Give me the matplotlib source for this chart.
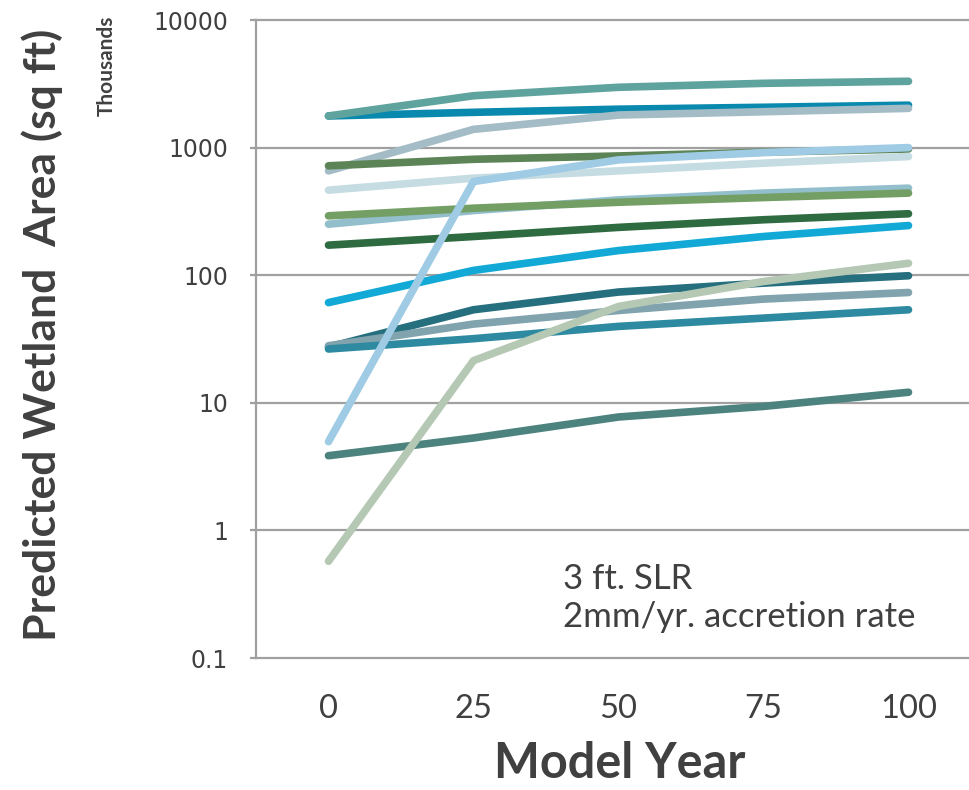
import matplotlib

matplotlib.use("Agg")
import matplotlib.pyplot as plt

years = ["0", "25", "50", "75", "100"]

# predicted wetland area per site, thousands of sq ft
series = {
    "B": [1770, 1890, 2000, 2070, 2150],
    "A": [1770, 2550, 2970, 3190, 3310],
    "C": [657, 1390, 1800, 1910, 2030],
    "D": [720, 810, 860, 920, 975],
    "G": [251, 321, 389, 440, 481],
    "H": [292, 335, 373, 406, 440],
    "I": [172, 201, 237, 272, 303],
    "J": [61, 109, 156, 201, 245],
    "K": [27.3, 53.6, 73.8, 86.7, 99],
    "L": [28, 41.4, 52.9, 65, 73.2],
    "M": [26.4, 31.8, 39.7, 46.1, 53.6],
    "O": [3.85, 5.3, 7.74, 9.37, 12.1],
    "F": [464, 576, 657, 755, 851],
    "E": [4.96, 542, 801, 914, 1000],
    "N": [0.573, 21.4, 56.9, 89.3, 124],
}

colors = {
    "A": "#5FA39E",
    "B": "#0A89AE",
    "C": "#A3BCC6",
    "D": "#5C8457",
    "E": "#9FCBE5",
    "F": "#C5DCE3",
    "G": "#93BFCD",
    "H": "#739E64",
    "I": "#2E6B40",
    "J": "#12A9D6",
    "K": "#256F7F",
    "L": "#80A3AD",
    "M": "#2D8AA0",
    "N": "#B4C8B4",
    "O": "#4D837F",
}

yticks = [0.1, 1, 10, 100, 1000, 10000]
ytick_labels = ["0.1", "1", "10", "100", "1000", "10000"]

text_color = "#404040"
grid_color = "#A0A0A0"

fig = plt.figure(figsize=(9.69, 7.9), dpi=100)
ax = fig.add_axes([256 / 969, 1 - 658 / 790, 725 / 969, 638 / 790])

x = list(range(len(years)))
for name, vals in series.items():
    ax.plot(x, vals, color=colors[name], lw=5.5, solid_capstyle="round", zorder=3)

ax.set_yscale("log")
ax.set_ylim(0.1, 10000)
ax.set_xlim(-0.5, len(years) - 0.5)
ax.set_yticks(yticks)
ax.set_yticklabels(ytick_labels)
ax.minorticks_off()
ax.set_xticks(x)
ax.set_xticklabels(years)

ax.grid(axis="y", color=grid_color, lw=1.6)
for gl in ax.get_ygridlines():
    gl.set_clip_on(False)
ax.set_axisbelow(True)

for side in ["top", "right", "bottom"]:
    ax.spines[side].set_visible(False)
ax.spines["left"].set_color(grid_color)
ax.spines["left"].set_linewidth(1.6)

ax.tick_params(axis="y", length=4, width=1.6, color=grid_color, pad=16,
               labelsize=17, labelcolor=text_color)
ax.tick_params(axis="x", length=0, pad=26, labelsize=23.5, labelcolor=text_color)
for lab in ax.get_xticklabels():
    lab.set_family("Lato")
for lab in ax.get_yticklabels():
    lab.set_family("DejaVu Sans")

fig.text(42 / 969, 1 - 335 / 790, "Predicted Wetland  Area (sq ft)", rotation=90,
         ha="center", va="center", fontsize=32, fontweight="bold",
         family="Lato", color=text_color)
fig.text(107 / 969, 1 - 66 / 790, "Thousands", rotation=90, ha="center", va="center",
         fontsize=15, fontweight="bold", family="Lato", color=text_color)
fig.text(620 / 969, 1 - 764 / 790, "Model Year", ha="center", va="center",
         fontsize=35, fontweight="bold", family="Lato", color=text_color)

ax.text(0.423, 0.094, "3 ft. SLR\n2mm/yr. accretion rate", transform=ax.transAxes,
        ha="left", va="center", fontsize=25, family="Lato", color=text_color,
        linespacing=1.25)

fig.savefig("out.png", dpi=100)
